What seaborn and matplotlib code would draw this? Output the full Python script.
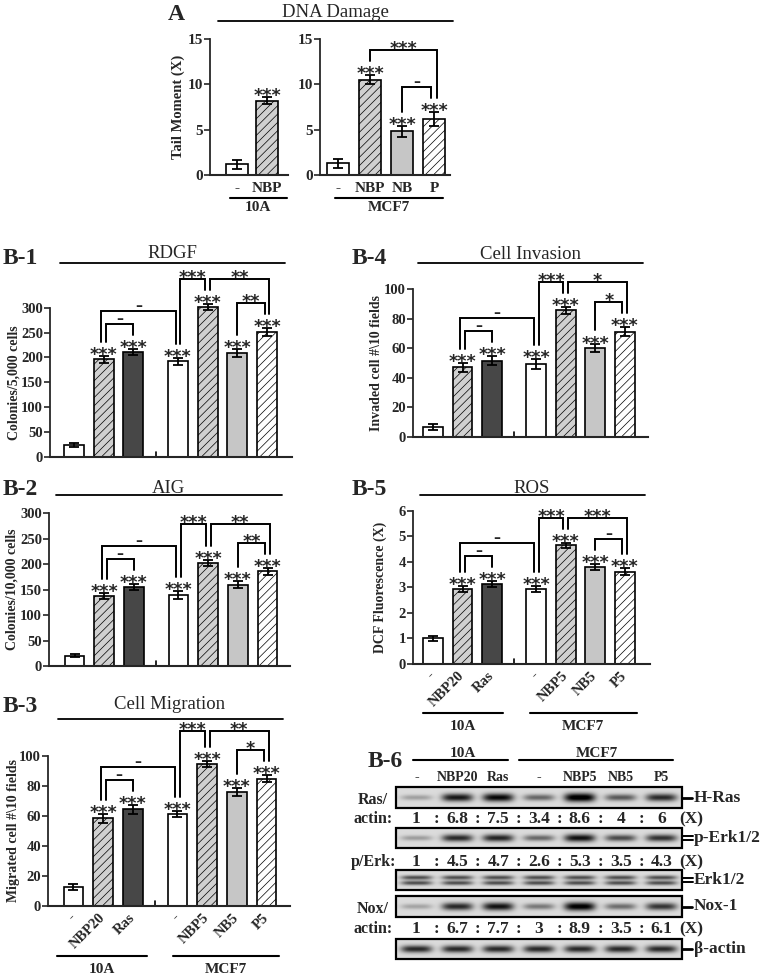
import numpy as np
import matplotlib
matplotlib.use("Agg")
import matplotlib.pyplot as plt
from matplotlib.patches import Rectangle
import seaborn as sns

# ==========================
# DATA
# ==========================

# A - DNA damage, tail moment (X)
dna_10a_lab = ["-", "NBP"]
dna_10a = [1.2, 8.2]
dna_10a_err = [0.5, 0.4]
dna_mcf7_lab = ["-", "NBP", "NB", "P"]
dna_mcf7 = [1.3, 10.5, 4.8, 6.2]
dna_mcf7_err = [0.5, 0.5, 0.6, 0.8]
dna_10a_stars = ["", "***"]
dna_mcf7_stars = ["", "***", "***", "***"]
dna_mcf7_sig = [(1, 3, "***"), (2, 3, "–")]

# B-1 .. B-5 : 10A (-, NBP20, Ras) and MCF7 (-, NBP5, NB5, P5)
b_lab = ["-", "NBP20", "Ras", "-", "NBP5", "NB5", "P5"]
rdgf = [25, 196, 211, 192, 301, 209, 252]
rdgf_err = [4, 7, 7, 7, 6, 8, 8]
aig = [20, 137, 155, 140, 203, 160, 186]
aig_err = [3, 6, 6, 8, 6, 7, 7]
migration = [13, 58.5, 64.5, 61.5, 95, 76, 85]
migration_err = [2, 3, 3, 2, 2, 2.5, 2.5]
invasion = [7, 47, 51.5, 49.5, 85.5, 60, 71]
invasion_err = [2, 3, 3, 3.5, 2.5, 2.5, 3]
ros = [1.0, 2.92, 3.13, 2.92, 4.64, 3.79, 3.61]
ros_err = [0.09, 0.12, 0.13, 0.12, 0.09, 0.11, 0.13]

b_stars = ["", "***", "***", "***", "***", "***", "***"]
rdgf_sig = [(1, 2, "–"), (1, 3, "–"), (3, 4, "***"), (4, 6, "**"), (5, 6, "**")]
aig_sig = [(1, 2, "–"), (1, 3, "–"), (3, 4, "***"), (4, 6, "**"), (5, 6, "**")]
migration_sig = [(1, 2, "–"), (1, 3, "–"), (3, 4, "***"), (4, 6, "**"), (5, 6, "*")]
invasion_sig = [(1, 2, "–"), (1, 3, "–"), (3, 4, "***"), (4, 6, "*"), (5, 6, "*")]
ros_sig = [(1, 2, "–"), (1, 3, "–"), (3, 4, "***"), (4, 6, "***"), (5, 6, "–")]

# B-6 western blot, quantified ratios
blot_lanes = ["-", "NBP20", "Ras", "-", "NBP5", "NB5", "P5"]
ras_actin = [1, 6.8, 7.5, 3.4, 8.6, 4, 6]
p_erk = [1, 4.5, 4.7, 2.6, 5.3, 3.5, 4.3]
nox_actin = [1, 6.7, 7.7, 3, 8.9, 3.5, 6.1]
erk_total = [1, 1, 1, 1, 1, 1, 1]
b_actin = [1, 1, 1, 1, 1, 1, 1]

# ==========================
# STYLE
# ==========================
sns.set_style("ticks")
plt.rcParams["font.family"] = ["Liberation Serif", "DejaVu Serif"]
plt.rcParams["font.weight"] = "bold"
plt.rcParams["axes.labelweight"] = "bold"
plt.rcParams["hatch.linewidth"] = 0.5

W, H = 766, 976
fig = plt.figure(figsize=(W / 100, H / 100), dpi=100)

FACE_10A = ["white", "#d0d0d0", "#474747"]
HATCH_10A = [None, "////", None]
FACE_MCF7 = ["white", "#d0d0d0", "#c6c6c6", "white"]
HATCH_MCF7 = [None, "////", None, "////"]
STAR_FONT = dict(family="DejaVu Sans", weight="bold")


def make_ax(xl, xr, x0px, dx, y0, yv, yvpix, top):
    # axes placed in pixel units of the reference
    ax = fig.add_axes([xl / W, 1 - y0 / H, (xr - xl) / W, (y0 - top) / H])
    ax.patch.set_alpha(0)
    ppu = (y0 - yvpix) / yv
    lims = ((xl - x0px) / dx, (xr - x0px) / dx), (0, (y0 - top) / ppu)
    return ax, lims, 1 / ppu


def bracket_tops(mean, err, stars, sig, upp):
    head = [m + e + (14 if s else 5) * upp for m, e, s in zip(mean, err, stars)]
    tops = {}
    labels = {(i, j): lab for i, j, lab in sig}
    for i, j, lab in sorted(sig, key=lambda s: s[1] - s[0]):
        t = max(head[i:j + 1]) + 11 * upp
        for (a, b), tt in tops.items():
            if i <= a and b <= j:
                step = 13 if labels[(a, b)] == "–" else 19
                t = max(t, tt + step * upp)
        tops[(i, j)] = t
    # brackets meeting on the tallest bar of both spans share one level
    for k in range(len(mean)):
        keys = [(i, j) for i, j, _ in sig if k in (i, j)
                and int(np.argmax(head[i:j + 1])) + i == k]
        if len(keys) > 1:
            t = max(tops[key] for key in keys)
            for key in keys:
                tops[key] = t
    return head, tops


def bars(ax, lims, upp, xpos, mean, err, faces, hatches, stars, sig, yv, ystep,
         width=0.67, ytick_size=10.5):
    sns.barplot(x=xpos, y=mean, native_scale=True, width=width, color="white",
                edgecolor="black", linewidth=1.2, errorbar=None, ax=ax, zorder=2)
    for p, fc, h in zip(ax.patches, faces, hatches):
        p.set_facecolor(fc)
        if h:
            p.set_hatch(h)
            if hasattr(p, "set_hatchcolor"):
                p.set_hatchcolor("#505050")
    ax.errorbar(xpos, mean, yerr=err, fmt="none", ecolor="black",
                elinewidth=1.3, capsize=3.5, capthick=1.3, zorder=3)

    for xp, m, e, s in zip(xpos, mean, err, stars):
        if s:
            ax.text(xp, m + e - 4 * upp, s, ha="center", va="baseline",
                    fontsize=12.5, clip_on=False, **STAR_FONT)

    # significance brackets
    head, tops = bracket_tops(mean, err, stars, sig, upp)
    legs = {}
    for k in range(len(xpos)):
        ends = [(j if i == k else i, (i, j)) for i, j, _ in sig if k in (i, j)]
        ends.sort(key=lambda e: (e[0] > k, -e[0]))
        offs = [0.0] if len(ends) < 2 else np.linspace(-0.08, 0.08, len(ends))
        for (o, key), d in zip(ends, offs):
            legs[(key, k)] = xpos[k] + d
    for i, j, lab in sig:
        t = tops[(i, j)]
        xa, xb = legs[((i, j), i)], legs[((i, j), j)]
        ax.plot([xa, xa, xb, xb], [head[i], t, t, head[j]], color="black",
                lw=1.4, clip_on=False, solid_joinstyle="miter")
        dy = 1 if lab == "–" else -4
        ax.text((xa + xb) / 2, t + dy * upp, lab, ha="center", va="baseline",
                fontsize=12.5 if lab != "–" else 10, clip_on=False, **STAR_FONT)

    ax.set_xlim(*lims[0])
    ax.set_ylim(*lims[1])
    ax.set_yticks(np.arange(0, yv + ystep / 2, ystep))
    ax.tick_params(axis="y", direction="out", length=4, width=1.2,
                   labelsize=ytick_size, pad=1)
    ax.tick_params(axis="x", length=0)
    sns.despine(ax=ax)
    ax.spines["left"].set_bounds(0, yv)
    ax.spines["left"].set_linewidth(1.3)
    ax.spines["bottom"].set_linewidth(1.5)
    ax.set_ylabel("")


def ylab(ax, text, xl, xr, xpix, size=10):
    ax.set_ylabel(text, fontsize=size)
    ybot, ytop = ax.get_ylim()
    ymid = (ax.get_yticks()[-1] / 2 - ybot) / (ytop - ybot)
    ax.yaxis.set_label_coords((xpix - xl) / (xr - xl), ymid)
    ax.yaxis.label.set_va("center")


def rot_ticks(ax, xpos, labels):
    ax.set_xticks(xpos)
    ax.set_xticklabels(labels, rotation=45, ha="right", va="center",
                       rotation_mode="anchor", fontsize=10.5)
    ax.tick_params(axis="x", pad=7)


def gap_tick(ax, xpos, upp):
    g = (xpos[2] + xpos[3]) / 2
    ax.plot([g, g], [0, 5 * upp], color="black", lw=1.2)


b_x = np.r_[np.arange(3), np.arange(4) + 3.5]
b_face = FACE_10A + FACE_MCF7
b_hatch = HATCH_10A + HATCH_MCF7

# ---------- A ----------
axA1, lim, upp = make_ax(210, 288, 237, 30, 175, 15, 39, 30)
xa1 = np.arange(len(dna_10a))
bars(axA1, lim, upp, xa1, dna_10a, dna_10a_err, FACE_MCF7[:2], HATCH_MCF7[:2],
     dna_10a_stars, [], 15, 5, width=0.72, ytick_size=11)
axA1.set_xticks(xa1)
axA1.set_xticklabels(dna_10a_lab, fontsize=11)
axA1.tick_params(axis="x", pad=5)
ylab(axA1, "Tail Moment (X)", 210, 288, 178, size=10.5)

axA2, lim, upp = make_ax(320, 450, 338, 32, 175, 15, 39, 30)
xa2 = np.arange(len(dna_mcf7))
bars(axA2, lim, upp, xa2, dna_mcf7, dna_mcf7_err, FACE_MCF7, HATCH_MCF7,
     dna_mcf7_stars, dna_mcf7_sig, 15, 5, width=0.7, ytick_size=11)
axA2.set_xticks(xa2)
axA2.set_xticklabels(dna_mcf7_lab, fontsize=11)
axA2.tick_params(axis="x", pad=5)

# ---------- B-1 RDGF ----------
ax1, lim, upp = make_ax(50, 292, 74, 29.7, 457, 300, 307.7, 268)
bars(ax1, lim, upp, b_x, rdgf, rdgf_err, b_face, b_hatch, b_stars, rdgf_sig, 300, 50)
ax1.set_xticks([])
gap_tick(ax1, b_x, upp)
ylab(ax1, "Colonies/5,000 cells", 50, 292, 14)

# ---------- B-2 AIG ----------
ax2, lim, upp = make_ax(49, 290, 74.5, 29.7, 666, 300, 513.3, 500)
bars(ax2, lim, upp, b_x, aig, aig_err, b_face, b_hatch, b_stars, aig_sig, 300, 50)
ax2.set_xticks([])
gap_tick(ax2, b_x, upp)
ylab(ax2, "Colonies/10,000 cells", 49, 290, 12.5)

# ---------- B-3 Migration ----------
ax3, lim, upp = make_ax(48, 290, 73.5, 29.7, 906, 100, 756, 724)
bars(ax3, lim, upp, b_x, migration, migration_err, b_face, b_hatch, b_stars,
     migration_sig, 100, 20)
rot_ticks(ax3, b_x, b_lab)
gap_tick(ax3, b_x, upp)
ylab(ax3, "Migrated cell #\\10 fields", 48, 290, 14)

# ---------- B-4 Invasion ----------
ax4, lim, upp = make_ax(413, 648, 433, 29.5, 437, 100, 289, 268)
bars(ax4, lim, upp, b_x, invasion, invasion_err, b_face, b_hatch, b_stars,
     invasion_sig, 100, 20)
ax4.set_xticks([])
gap_tick(ax4, b_x, upp)
ylab(ax4, "Invaded cell #\\10 fields", 413, 648, 376)

# ---------- B-5 ROS ----------
ax5, lim, upp = make_ax(413, 650, 433, 29.5, 664, 6, 510.7, 500)
bars(ax5, lim, upp, b_x, ros, ros_err, b_face, b_hatch, b_stars, ros_sig, 6, 1)
rot_ticks(ax5, b_x, b_lab)
gap_tick(ax5, b_x, upp)
ylab(ax5, "DCF Fluorescence (X)", 413, 650, 380)

# ==========================
# overlay: headers, group lines, blot
# ==========================
ov = fig.add_axes([0, 0, 1, 1])
ov.patch.set_visible(False)


def header(letter, lx, ly, title, tx, ty, x0, x1, y):
    ov.text(lx, ly, letter, fontsize=17, ha="left", va="baseline")
    ov.text(tx, ty, title, fontsize=13.5, weight="normal", ha="center", va="baseline")
    ov.plot([x0, x1], [y, y], color="black", lw=1.3)


def group(cx, x0, x1, yline, ytext, text):
    ov.plot([x0, x1], [yline, yline], color="black", lw=1.5)
    ov.text(cx, ytext, text, fontsize=11, ha="center", va="baseline")


header("A", 168, 20, "DNA Damage", 335, 17, 218, 453, 21)
header("B-1", 3, 264, "RDGF", 172, 258, 60, 285, 262.7)
header("B-4", 352, 264, "Cell Invasion", 530, 259, 418, 643, 263)
header("B-2", 3, 495, "AIG", 168, 493, 56, 282, 495)
header("B-5", 352, 495, "ROS", 532, 493, 420, 645, 495)
header("B-3", 3, 712, "Cell Migration", 170, 709, 58, 283, 719)

group(258, 230, 287, 197.7, 211, "10A")
group(389, 335, 443, 197.7, 211, "MCF7")
group(102, 57, 147, 956, 973, "10A")
group(226, 173, 279, 956, 973, "MCF7")
group(463, 423, 503, 713, 730, "10A")
group(583, 530, 637, 713, 730, "MCF7")

# ---- B-6 blot ----
ov.text(368, 767, "B-6", fontsize=17, ha="left", va="baseline")
group(463, 413, 508, 759.5, 757, "10A")
group(597, 519, 673, 759.5, 757, "MCF7")

BX0, BX1 = 396, 682
lane_w = (BX1 - BX0) / len(blot_lanes)
lane_c = BX0 + lane_w * (np.arange(len(blot_lanes)) + 0.5)
for xc, lab in zip(lane_c, blot_lanes):
    ov.text(xc, 781, lab, fontsize=10, ha="center", va="baseline")


def blot(y0, y1, levels, name, double=False, peak=1.0):
    nx, ny = 600, 60
    X, Y = np.meshgrid(np.linspace(0, len(levels), nx), np.linspace(-1, 1, ny))
    lv = np.asarray(levels, float)
    amp = peak * (0.15 + 0.85 * lv / lv.max())
    img = np.zeros_like(X)
    for i, a in enumerate(amp):
        across = np.exp(-((X - i - 0.5) / 0.38) ** 4)
        if double:
            down = np.exp(-((Y + 0.25) / 0.22) ** 2) + np.exp(-((Y - 0.3) / 0.22) ** 2)
        else:
            down = np.exp(-(Y / (0.2 + 0.22 * a)) ** 2)
        img += a * across * down
    img = 0.86 - 0.95 * np.clip(img, 0, 1)
    ov.imshow(img, extent=(BX0, BX1, y1, y0), cmap="gray", vmin=0, vmax=1,
              aspect="auto", interpolation="bilinear", zorder=2)
    ov.add_patch(Rectangle((BX0, y0), BX1 - BX0, y1 - y0, fill=False,
                           ec="black", lw=1.6, zorder=3))
    yc = (y0 + y1) / 2
    if name in ("p-Erk1/2", "Erk1/2"):
        for d in (-2, 2):
            ov.plot([BX1, BX1 + 11], [yc + d, yc + d], color="black", lw=1.4)
    else:
        ov.plot([BX1, BX1 + 10], [yc, yc], color="black", lw=2)
    ov.text(BX1 + 12, yc, name, fontsize=12.5, ha="left", va="center")


def ratio_row(y, values):
    for xc, v in zip(lane_c, values):
        ov.text(xc, y, f"{v:g}", fontsize=12.5, ha="center", va="baseline")
    for xb in BX0 + lane_w * np.arange(1, len(values)):
        ov.text(xb, y, ":", fontsize=12.5, ha="center", va="baseline")
    ov.text(691, y, "(X)", fontsize=12.5, ha="center", va="baseline")


blot(787, 808, ras_actin, "H-Ras")
ratio_row(823, ras_actin)
blot(828, 848, p_erk, "p-Erk1/2", peak=0.85)
ratio_row(866, p_erk)
blot(870, 890, erk_total, "Erk1/2", double=True, peak=0.6)
blot(896, 917, nox_actin, "Nox-1", peak=0.95)
ratio_row(933, nox_actin)
blot(939, 959, b_actin, "β-actin", peak=0.75)

ov.text(373, 804, "Ras/", fontsize=11.5, ha="center", va="baseline")
ov.text(373, 823, "actin:", fontsize=11.5, ha="center", va="baseline")
ov.text(373, 866, "p/Erk:", fontsize=11.5, ha="center", va="baseline")
ov.text(373, 913, "Nox/", fontsize=11.5, ha="center", va="baseline")
ov.text(373, 933, "actin:", fontsize=11.5, ha="center", va="baseline")

ov.set_xlim(0, W)
ov.set_ylim(H, 0)
ov.axis("off")

fig.savefig("out.png", dpi=100, facecolor="white")
